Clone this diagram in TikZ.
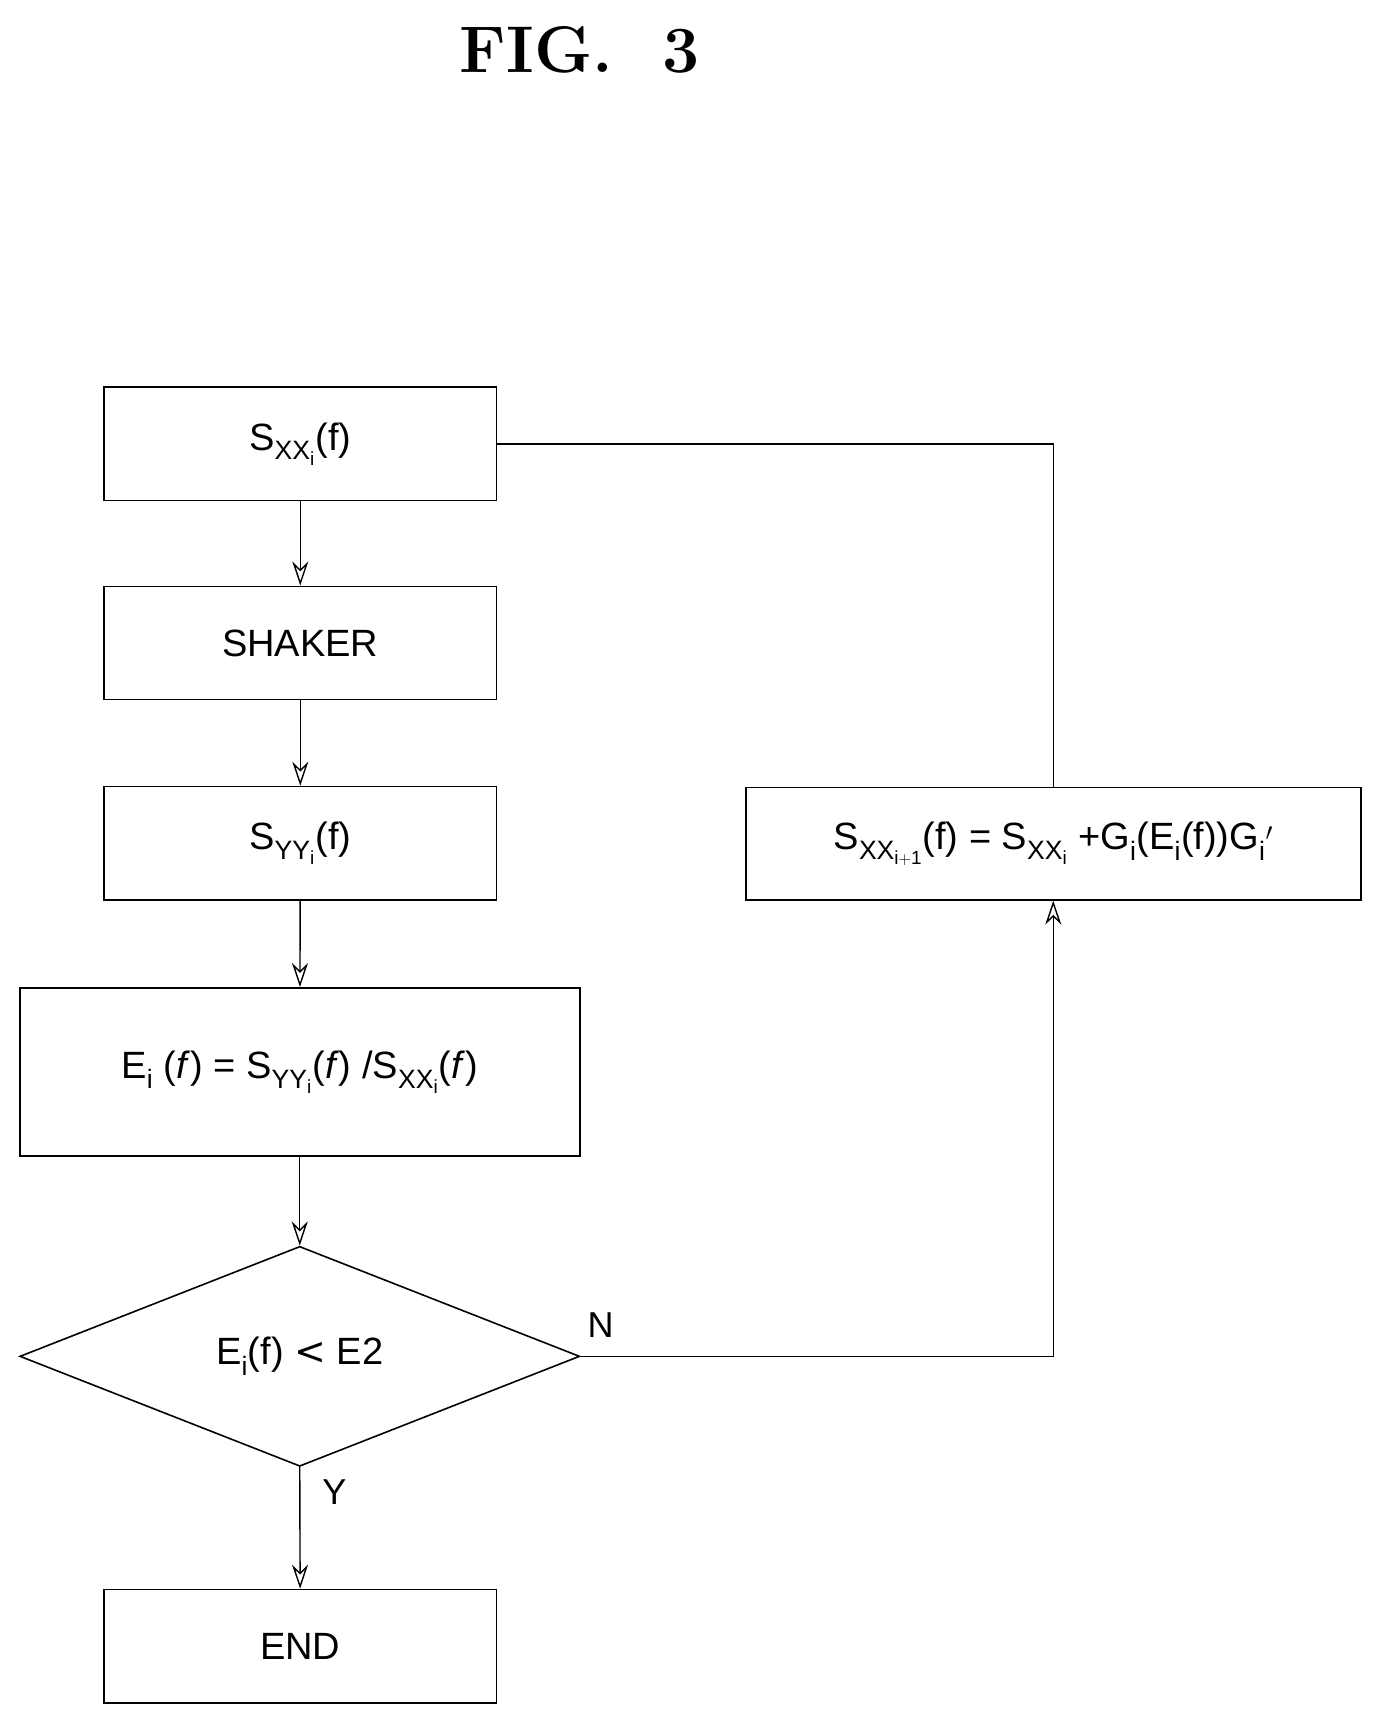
\documentclass[tikz,border=0pt]{standalone}
\usepackage{fontspec}
\setsansfont{Liberation Sans}
\usetikzlibrary{shapes.geometric,arrows.meta}
\begin{document}
\begin{tikzpicture}[x=1.1pt,y=-1.1pt,
  box/.style={draw,line width=1.6pt,minimum width=357*1.1pt,minimum height=103*1.1pt,inner sep=0pt,font=\sffamily\fontsize{38}{40}\selectfont},
  arr/.style={line width=1.4pt,-{Stealth[open,length=24pt,width=16pt]}},
  ln/.style={line width=1.4pt}]
\useasboundingbox (0,0) rectangle (1251.8,1562.7);
\node[font=\bfseries\fontsize{66}{70}\selectfont] (title) at (527,45) {FIG.\ \ 3};
\node[box] (b1) at (273,403.5) {S$_{\mathsf{XX}_\mathsf{i}}$(f)};
\node[box] (b2) at (273,584.5) {SHAKER};
\node[box] (b3) at (273,766.5) {S$_{\mathsf{YY}_\mathsf{i}}$(f)};
\node[box,minimum width=509*1.1pt,minimum height=153*1.1pt] (b4) at (272.5,974.5) {E$_\mathsf{i}$ (\textit{f}) = S$_{\mathsf{YY}_\mathsf{i}}$(\textit{f}) /S$_{\mathsf{XX}_\mathsf{i}}$(\textit{f})};
\node[draw,line width=1.6pt,diamond,aspect=2.545,inner sep=0pt,minimum width=509*1.1pt,minimum height=200*1.1pt,font=\sffamily\fontsize{38}{40}\selectfont] (d) at (272.5,1233) {E$_\mathsf{i}$(f) {\fontspec{DejaVu Sans}<} E2};
\node[box] (e) at (273,1496.5) {END};
\node[box,minimum width=559*1.1pt,minimum height=102*1.1pt] (r) at (957.5,767) {S$_{\mathsf{XX}_{\mathsf{i+1}}}$(f) = S$_{\mathsf{XX}_\mathsf{i}}$ +G$_\mathsf{i}$(E$_\mathsf{i}$(f))G$_\mathsf{i}$$'$};
\node[font=\sffamily\fontsize{36}{40}\selectfont] (n) at (546,1205) {N};
\node[font=\sffamily\fontsize{36}{40}\selectfont] (y) at (304,1356) {Y};
\draw[arr] (b1) -- (b2);
\draw[arr] (b2) -- (b3);
\draw[arr] (b3) -- (b4);
\draw[arr] (b4) -- (d);
\draw[arr] (d.south) -- (e);
\draw[arr] (d.east) -| (r.south);
\draw[ln] (r.north) |- (b1.east);
\end{tikzpicture}
\end{document}
